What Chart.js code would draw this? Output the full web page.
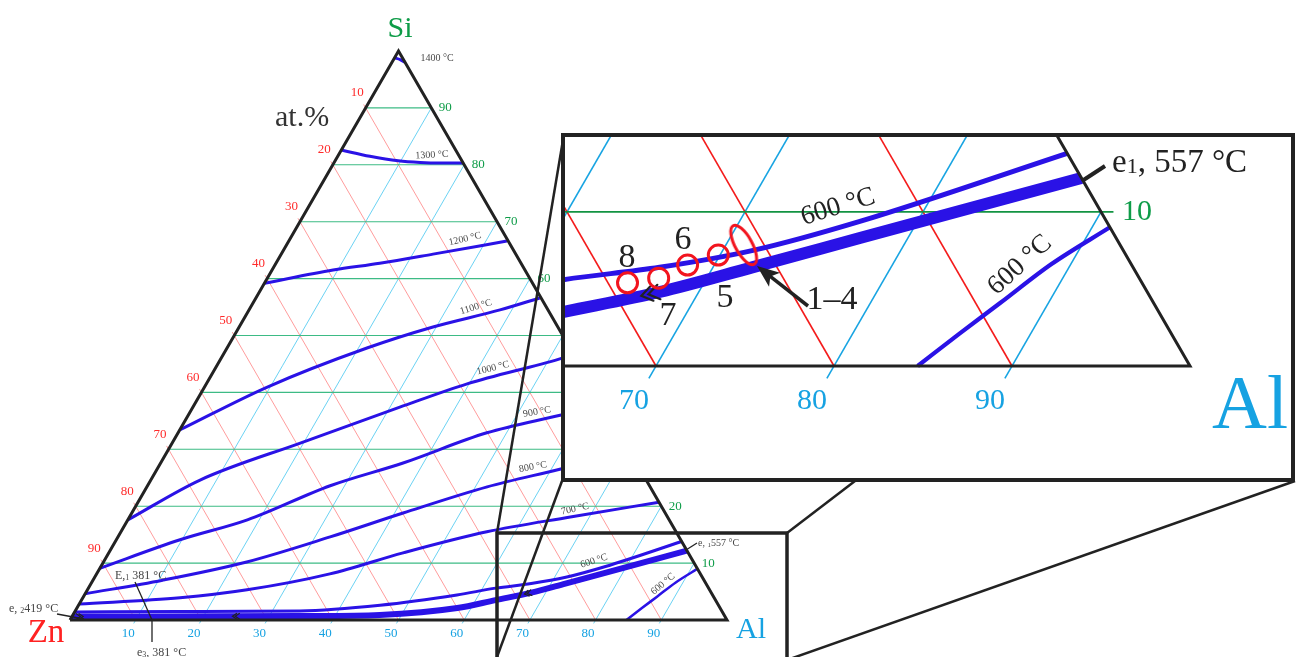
<!DOCTYPE html>
<html>
<head>
<meta charset="utf-8">
<script src="https://cdn.jsdelivr.net/npm/chart.js@4.4.1/dist/chart.umd.min.js"></script>
<style>
  html, body { margin: 0; padding: 0; background: #fff; }
  body { width: 1298px; height: 657px; position: relative; overflow: hidden; }
  #main { position: absolute; left: 0; top: 0; }
  #zoomBox { position: absolute; left: 561px; top: 133px; width: 726px; height: 341px;
             border: 4px solid #222; background: #fff; }
  #zoom { display: block; }
</style>
</head>
<body>
<canvas id="main" width="1298" height="657"></canvas>
<div id="zoomBox"><canvas id="zoom" width="726" height="341"></canvas></div>
<script>
// compositions as [Al at.%, Si at.%], Zn is the rest
const znTicks = [10, 20, 30, 40, 50, 60, 70, 80, 90];
const siTicks = [10, 20, 30, 40, 50, 60, 70, 80, 90];
const alTicks = [10, 20, 30, 40, 50, 60, 70, 80, 90];

const iso1400 = [[0, 98.8], [1.0, 98.5], [2.0, 98.0]];
const iso1300 = [[0, 82.6], [4.9, 81.5], [9.6, 80.7], [13.1, 80.4], [16.2, 80.3], [19.7, 80.3]];
const iso1200 = [[0, 59.2], [9.3, 61.5], [15.8, 62.7], [23.1, 64.3], [33.2, 66.6]];
const iso1100 = [[0, 33.4], [9.5, 40.9], [21.3, 47.8], [29.5, 51.5], [38.2, 54.5], [43.2, 56.6]];
const iso1000 = [[0, 17.6], [7.5, 24.6], [19.5, 31.1], [31.5, 37.4], [39.7, 41.5], [51.6, 45.9], [53.3, 46.7]];
const iso900 = [[0, 9.1], [9.7, 14.1], [18.2, 17.6], [27.8, 23.6], [36.9, 27.6], [47.0, 32.9], [56.6, 36.0], [62.2, 37.8]];
const iso800 = [[0, 4.6], [10.6, 7.0], [21.8, 10.2], [32.3, 14.6], [41.3, 18.8], [51.8, 23.4], [61.3, 26.5], [70.4, 29.6]];
const iso700 = [[0, 2.8], [14.8, 3.9], [24.3, 5.3], [35.5, 8.1], [44.8, 11.8], [55.7, 15.5], [67.1, 18.1], [79.3, 20.7]];
const iso600 = [[0, 1.4], [16.0, 1.5], [34.2, 1.6], [45.9, 2.6], [56.7, 4.4], [62.0, 5.6], [67.0, 6.4], [71.7, 7.5], [76.8, 9.4], [86.2, 13.8]];
const iso600Al = [[84.7, 0], [86.0, 2.1], [87.3, 4.1], [88.9, 6.6], [91.0, 9.0]];
// eutectic valley e2 -> E1 -> e1 (thick line)
const valley = [[0, 0.6], [12.2, 0.6], [34.8, 0.7], [46.7, 0.9], [57.9, 2.1], [63.0, 3.5], [67.8, 4.8], [72.2, 6.4], [77.3, 8.3], [87.8, 12.2]];
// arrows on the valley: [Al at.%, direction of falling temperature]
const valleyArrows = [[1.7, 1], [24.4, -1], [66.9, -1]];
// alloys 5-8 and 1-4
const samples = [[65.7, 5.4], [67.3, 5.7], [68.5, 6.55], [69.9, 7.2]];
const samples14 = [[71.0, 7.85]];
const frame = [[0, 0], [100, 0], [0, 100], [0, 0]];

const SQ = Math.sqrt(3) / 2;
const toXY = ([al, si]) => ({ x: al + si / 2, y: si * SQ });
const INK = '#222';
const ISO = '#2a12e6';
const SERIF = '"Liberation Serif", "DejaVu Serif", serif';

const mainStyle = { red: '#ff8383', cyan: '#45c6f0', green: '#3dbb85', gridW: 0.8, ext: 0.6, gext: 0,
                    isoW: 3, valleyW: 6, frameW: 3 };
const zoomStyle = { red: '#f41c1c', cyan: '#18a4e2', green: '#129342', gridW: 1.6, ext: 0.8, gext: 0.7,
                    isoW: 5, valleyW: 12, frameW: 3 };

function buildDatasets(st, withSamples) {
  const line = (pts, color, width, order, extra) => Object.assign({
    data: pts.map(toXY), borderColor: color, borderWidth: width, pointRadius: 0,
    showLine: true, fill: false, order,
  }, extra || {});
  const ds = [];
  znTicks.forEach(z => ds.push(line([[-st.ext, 100 - z + st.ext], [100 - z, 0]], st.red, st.gridW, 9)));
  alTicks.forEach(a => ds.push(line([[a, -st.ext], [a, 100 - a]], st.cyan, st.gridW, 9)));
  siTicks.forEach(s => ds.push(line([[0, s], [100 - s + st.gext, s]], st.green, st.gridW + 0.3, 8)));
  const curve = { cubicInterpolationMode: 'monotone', borderCapStyle: 'butt' };
  [iso1400, iso1300, iso1200, iso1100, iso1000, iso900, iso800, iso700, iso600]
    .forEach(p => ds.push(line(p, ISO, st.isoW, 5, curve)));
  ds.push(line(iso600Al, ISO, st.isoW * 0.85, 5, curve));
  ds.push(line(valley, ISO, st.valleyW, 4, Object.assign({ isValley: true }, curve)));
  ds.push(line(frame, INK, st.frameW, 2, { borderJoinStyle: 'miter' }));
  if (withSamples) {
    ds.push({ data: samples.map(toXY), showLine: false, pointStyle: 'circle', pointRadius: 10,
              borderWidth: 3, borderColor: '#f2141e', backgroundColor: 'rgba(0,0,0,0)', order: 0 });
    ds.push({ data: samples14.map(toXY), showLine: false, pointStyle: ellipseMark(), pointRadius: 10,
              order: 0 });
  }
  return ds;
}

function ellipseMark() {
  const c = document.createElement('canvas');
  c.width = 44; c.height = 56;
  const g = c.getContext('2d');
  g.translate(22, 28); g.rotate(-0.5);
  g.beginPath(); g.ellipse(0, 0, 8.5, 22, 0, 0, Math.PI * 2);
  g.lineWidth = 3; g.strokeStyle = '#f2141e'; g.stroke();
  return c;
}

function valleySi(al) {
  for (let i = 1; i < valley.length; i++) {
    const [a0, s0] = valley[i - 1], [a1, s1] = valley[i];
    if (al <= a1) return s0 + (s1 - s0) * (al - a0) / (a1 - a0);
  }
  return valley[valley.length - 1][1];
}

function pixelFn(chart) {
  const { x, y } = chart.scales;
  return (al, si) => [x.getPixelForValue(al + si / 2), y.getPixelForValue(si * SQ)];
}

function drawChevrons(ctx, P, size, width) {
  ctx.save();
  ctx.strokeStyle = INK; ctx.lineWidth = width; ctx.lineCap = 'round';
  valleyArrows.forEach(([al, dir]) => {
    const [tx, ty] = P(al, valleySi(al));
    const [bx, by] = P(al - dir, valleySi(al - dir));
    let dx = tx - bx, dy = ty - by;
    const n = Math.hypot(dx, dy); dx /= n; dy /= n;
    for (let k = 0; k < 2; k++) {
      const cx = tx - dx * k * size * 0.55, cy = ty - dy * k * size * 0.55;
      ctx.beginPath();
      [0.6, -0.6].forEach((a, i) => {
        const ax = Math.cos(a) * -dx - Math.sin(a) * -dy;
        const ay = Math.sin(a) * -dx + Math.cos(a) * -dy;
        if (i === 0) { ctx.moveTo(cx + ax * size, cy + ay * size); ctx.lineTo(cx, cy); }
        else ctx.lineTo(cx + ax * size, cy + ay * size);
      });
      ctx.stroke();
    }
  });
  ctx.restore();
}

function text(ctx, str, x, y, font, color, rot, align, base) {
  ctx.save();
  ctx.translate(x, y);
  if (rot) ctx.rotate(rot * Math.PI / 180);
  ctx.font = font; ctx.fillStyle = color;
  ctx.textAlign = align || 'center'; ctx.textBaseline = base || 'middle';
  ctx.fillText(str, 0, 0);
  ctx.restore();
}

// runs of [text, size, drop] written left to right on one baseline
function runs(ctx, list, x, y, color) {
  ctx.save();
  ctx.fillStyle = color; ctx.textAlign = 'left'; ctx.textBaseline = 'alphabetic';
  list.forEach(([s, size, drop]) => {
    ctx.font = size + 'px ' + SERIF;
    ctx.fillText(s, x, y + drop);
    x += ctx.measureText(s).width;
  });
  ctx.restore();
}

function line(ctx, pts, width) {
  ctx.save();
  ctx.strokeStyle = INK; ctx.lineWidth = width;
  ctx.beginPath(); ctx.moveTo(pts[0], pts[1]); ctx.lineTo(pts[2], pts[3]); ctx.stroke();
  ctx.restore();
}

const mainTemps = [
  ['1400 °C', 437, 58, 0], ['1300 °C', 432, 155, -3], ['1200 °C', 465, 239, -13],
  ['1100 °C', 476, 307, -17], ['1000 °C', 493, 368, -14], ['900 °C', 537, 412, -10],
  ['800 °C', 533, 467, -10], ['700 °C', 575, 509, -12], ['600 °C', 594, 561, -18],
  ['600 °C', 663, 584, -40],
];

const mainDecor = {
  id: 'mainDecor',
  afterDatasetDraw(chart, args) {
    if (chart.data.datasets[args.index].isValley) drawChevrons(chart.ctx, pixelFn(chart), 5, 1.3);
  },
  afterDatasetsDraw(chart) {
    const ctx = chart.ctx;
    const P = pixelFn(chart);
    const tick = '13px ' + SERIF;
    znTicks.forEach(z => {
      const [px, py] = P(0, 100 - z);
      text(ctx, String(z), px - 8.5, py - 15, tick, '#ff2a2a');
    });
    siTicks.forEach(s => {
      const [px, py] = P(100 - s, s);
      text(ctx, String(s), px + 14, py, tick, '#0e9c48');
    });
    alTicks.forEach(a => {
      const [px, py] = P(a, 0);
      text(ctx, String(a), px - 7.5, py + 13.5, tick, '#16a2e2');
    });
    mainTemps.forEach(([s, x, y, r]) => text(ctx, s, x, y, '10px ' + SERIF, '#4a4a4a', r));

    // zoom frame and the lines to the enlarged view
    ctx.save();
    ctx.strokeStyle = INK; ctx.lineWidth = 3.5;
    ctx.strokeRect(497, 533, 290, 200);
    ctx.restore();
    line(ctx, [497, 533, 564, 134], 2.5);
    line(ctx, [497, 657, 562, 481], 2.5);
    line(ctx, [787, 533, 855, 481], 2.5);
    line(ctx, [787, 660, 1295, 481], 2.5);

    // eutectic points
    runs(ctx, [['e, ', 10, 0], ['1', 7, 1], ['557 °C', 10, 0]], 698, 546, '#444');
    line(ctx, [686, 550, 697, 543], 1.3);
    runs(ctx, [['E,', 12, 0], ['1', 8, 1], [' 381 °C', 12, 0]], 115, 579, '#444');
    line(ctx, [135, 582, 152, 620], 1.3);
    line(ctx, [152, 620, 152, 642], 1.3);
    runs(ctx, [['e', 12, 0], ['3', 8, 1], [', 381 °C', 12, 0]], 137, 656, '#444');
    runs(ctx, [['e, ', 12, 0], ['2', 8, 1], ['419 °C', 12, 0]], 9, 612, '#444');
    line(ctx, [57, 614, 84, 619], 1.3);

    text(ctx, 'Si', 400, 37, '30px ' + SERIF, '#0e9c48', 0, 'center', 'alphabetic');
    text(ctx, 'Zn', 46, 642, '33px ' + SERIF, '#ff2222', 0, 'center', 'alphabetic');
    text(ctx, 'Al', 751, 638, '30px ' + SERIF, '#16a2e2', 0, 'center', 'alphabetic');
    text(ctx, 'at.%', 275, 126, '30px ' + SERIF, '#333', 0, 'left', 'alphabetic');
  },
};

const zoomDecor = {
  id: 'zoomDecor',
  afterDatasetDraw(chart, args) {
    if (chart.data.datasets[args.index].isValley) drawChevrons(chart.ctx, pixelFn(chart), 13, 2.2);
  },
  afterDatasetsDraw(chart) {
    const ctx = chart.ctx;
    const P = pixelFn(chart);
    const big = '30px ' + SERIF;
    alTicks.forEach(a => {
      const [px, py] = P(a, 0);
      text(ctx, String(a), px - 22, py + 35, big, '#16a2e2');
    });
    siTicks.forEach(s => {
      const [px, py] = P(100 - s, s);
      text(ctx, String(s), px + 36, py, big, '#0e9c48');
    });
    runs(ctx, [['e', 33, 0], ['1', 22, 1], [', 557 °C', 33, 0]], 547, 35, INK);
    line(ctx, [517, 44, 540, 29], 4);
    text(ctx, '600 °C', 273, 70, '27px ' + SERIF, INK, -17);
    text(ctx, '600 °C', 455, 128, '27px ' + SERIF, INK, -42);
    const num = '34px ' + SERIF;
    text(ctx, '8', 62, 121, num, INK);
    text(ctx, '6', 118, 103, num, INK);
    text(ctx, '7', 103, 179, num, INK);
    text(ctx, '5', 160, 161, num, INK);
    text(ctx, '1–4', 267, 163, num, INK);
    // pointer to alloys 1-4
    ctx.save();
    ctx.strokeStyle = INK; ctx.fillStyle = INK; ctx.lineWidth = 3.5;
    const tx = 192, ty = 129, fx = 243, fy = 169;
    const ang = Math.atan2(ty - fy, tx - fx);
    ctx.beginPath(); ctx.moveTo(fx, fy); ctx.lineTo(tx + Math.cos(ang) * -14, ty + Math.sin(ang) * -14); ctx.stroke();
    ctx.beginPath();
    ctx.moveTo(tx, ty);
    ctx.lineTo(tx - 24 * Math.cos(ang - 0.38), ty - 24 * Math.sin(ang - 0.38));
    ctx.lineTo(tx - 17 * Math.cos(ang), ty - 17 * Math.sin(ang));
    ctx.lineTo(tx - 24 * Math.cos(ang + 0.38), ty - 24 * Math.sin(ang + 0.38));
    ctx.closePath(); ctx.fill();
    ctx.restore();
    text(ctx, 'Al', 685, 291, '76px ' + SERIF, '#16a2e2', 0, 'center', 'alphabetic');
  },
};

function baseOptions(xmin, xmax, ymin, ymax) {
  return {
    responsive: false, animation: false, devicePixelRatio: 1, events: [],
    layout: { padding: 0, autoPadding: false },
    plugins: { legend: { display: false }, tooltip: { enabled: false } },
    scales: {
      x: { type: 'linear', display: false, bounds: 'data', min: xmin, max: xmax },
      y: { type: 'linear', display: false, bounds: 'data', min: ymin, max: ymax },
    },
  };
}

// main triangle: Zn corner at (70, 620), 6.57 px per at.%
new Chart(document.getElementById('main'), {
  type: 'scatter',
  data: { datasets: buildDatasets(mainStyle, false) },
  options: baseOptions(-70 / 6.57, 1228 / 6.57, -37 / 6.57, 620 / 6.57),
  plugins: [mainDecor],
});

// enlarged view of the Al corner, 17.8 px per at.%
new Chart(document.getElementById('zoom'), {
  type: 'scatter',
  data: { datasets: buildDatasets(zoomStyle, true) },
  options: baseOptions(100 - 625 / 17.8, 100 + 101 / 17.8, -112 / 17.8, 229 / 17.8),
  plugins: [zoomDecor],
});
</script>
</body>
</html>
